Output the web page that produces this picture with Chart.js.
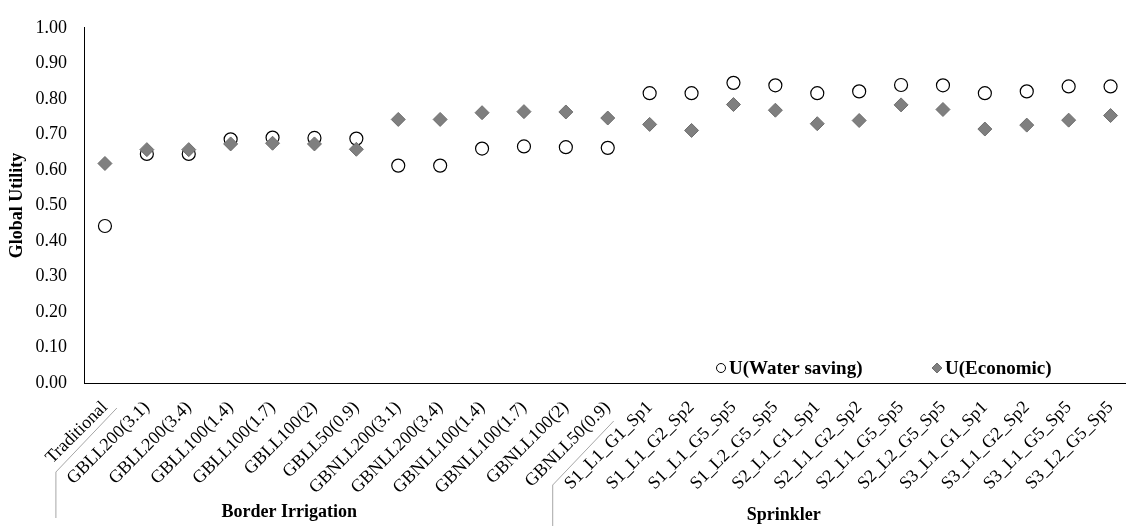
<!DOCTYPE html>
<html>
<head>
<meta charset="utf-8">
<script src="https://cdn.jsdelivr.net/npm/chart.js@4/dist/chart.umd.min.js"></script>
<style>
  html, body { margin: 0; padding: 0; background: #fff; overflow: hidden; }
  #wrap { width: 1140px; height: 527px; }
</style>
</head>
<body>
<div id="wrap"><canvas id="utility-chart" width="1140" height="527"></canvas></div>
<script>
const scenarios = [
  "Traditional",
  "GBLL200(3.1)",
  "GBLL200(3.4)",
  "GBLL100(1.4)",
  "GBLL100(1.7)",
  "GBLL100(2)",
  "GBLL50(0.9)",
  "GBNLL200(3.1)",
  "GBNLL200(3.4)",
  "GBNLL100(1.4)",
  "GBNLL100(1.7)",
  "GBNLL100(2)",
  "GBNLL50(0.9)",
  "S1_L1_G1_Sp1",
  "S1_L1_G2_Sp2",
  "S1_L1_G5_Sp5",
  "S1_L2_G5_Sp5",
  "S2_L1_G1_Sp1",
  "S2_L1_G2_Sp2",
  "S2_L1_G5_Sp5",
  "S2_L2_G5_Sp5",
  "S3_L1_G1_Sp1",
  "S3_L1_G2_Sp2",
  "S3_L1_G5_Sp5",
  "S3_L2_G5_Sp5",
];

const waterSaving = [
  0.442, 0.645, 0.645, 0.686, 0.691, 0.690, 0.688, 0.612, 0.612, 0.660, 0.666,
  0.664, 0.662, 0.816, 0.816, 0.845, 0.838, 0.816, 0.821, 0.839, 0.838, 0.816,
  0.821, 0.835, 0.835,
];

const economic = [
  0.618, 0.657, 0.657, 0.673, 0.675, 0.673, 0.658, 0.742, 0.742, 0.761, 0.764,
  0.763, 0.746, 0.728, 0.711, 0.784, 0.768, 0.730, 0.739, 0.783, 0.770, 0.715,
  0.726, 0.740, 0.753,
];

// irrigation system groups shown under the scenario labels
const groupNames = ["Border Irrigation", "Sprinkler"];
const groupFirstIndex = [0, 13];

const serif = "'Liberation Serif', 'Times New Roman', serif";

// Group captions and the slanted divider lines under the category labels
const groupLabelsPlugin = {
  id: "groupLabels",
  afterDraw(chart, args, opts) {
    const { ctx, scales } = chart;
    const x = scales.x;
    const base = chart.chartArea.bottom;
    ctx.save();
    ctx.strokeStyle = "#a6a6a6";
    ctx.lineWidth = 1;
    opts.dividers.forEach((d) => {
      const bx = (x.getPixelForValue(d.at - 0.5) + x.getPixelForValue(d.at + 0.5)) / 2;
      const topX = bx + d.dx;
      const topY = base + d.top;
      ctx.beginPath();
      ctx.moveTo(topX, topY);
      ctx.lineTo(topX - 61, topY + 64);
      ctx.lineTo(topX - 61, base + d.end);
      ctx.stroke();
    });
    ctx.fillStyle = "#000";
    ctx.font = "bold 18px " + serif;
    ctx.textAlign = "center";
    ctx.textBaseline = "middle";
    groupNames.forEach((name, i) => {
      const px = x.getPixelForValue(opts.labelAt[i]);
      ctx.fillText(name, px, base + opts.labelY[i]);
    });
    ctx.restore();
  },
};

// Legend drawn inside the plot area, bottom right
const innerLegendPlugin = {
  id: "innerLegend",
  afterDraw(chart, args, opts) {
    const { ctx, chartArea } = chart;
    const y = chartArea.bottom - opts.bottom;
    ctx.save();
    ctx.font = "bold 19px " + serif;
    ctx.textBaseline = "middle";
    ctx.textAlign = "left";
    chart.data.datasets.forEach((ds, i) => {
      const mx = chartArea.left + opts.offsets[i];
      ctx.fillStyle = ds.backgroundColor;
      ctx.strokeStyle = ds.borderColor;
      ctx.lineWidth = 1;
      ctx.beginPath();
      if (ds.pointStyle === "circle") {
        ctx.arc(mx, y, 4.5, 0, Math.PI * 2);
      } else {
        ctx.moveTo(mx, y - 5);
        ctx.lineTo(mx + 5, y);
        ctx.lineTo(mx, y + 5);
        ctx.lineTo(mx - 5, y);
        ctx.closePath();
      }
      ctx.fill();
      ctx.stroke();
      ctx.fillStyle = "#000";
      ctx.fillText(ds.label, mx + 8, y + 1);
    });
    ctx.restore();
  },
};

const canvas = document.getElementById("utility-chart");
const utilityChart = new Chart(canvas, {
  type: "line",
  data: {
    labels: scenarios,
    datasets: [
      {
        label: "U(Water saving)",
        data: waterSaving,
        showLine: false,
        pointStyle: "circle",
        pointRadius: 6.5,
        pointHoverRadius: 6.5,
        backgroundColor: "#ffffff",
        borderColor: "#000000",
        borderWidth: 1.2,
        order: 1,
      },
      {
        label: "U(Economic)",
        data: economic,
        showLine: false,
        pointStyle: "rectRot",
        pointRadius: 7,
        pointHoverRadius: 7,
        backgroundColor: "#7f7f7f",
        borderColor: "#6e6e6e",
        borderWidth: 1,
        order: 0,
      },
    ],
  },
  options: {
    responsive: false,
    animation: false,
    layout: {
      padding: { top: 18, right: 8, left: 0, bottom: 0 },
    },
    plugins: {
      legend: { display: false },
      tooltip: { enabled: false },
      groupLabels: {
        labelAt: [4.4, 16.2],
        labelY: [129, 132],
        dividers: [
          { at: 0.5, dx: -9, top: 25, end: 135 },
          { at: 12.5, dx: -15, top: 38, end: 143 },
        ],
      },
      innerLegend: {
        bottom: 15,
        offsets: [637, 853],
      },
    },
    scales: {
      x: {
        type: "category",
        offset: true,
        grid: { display: false, drawTicks: false },
        border: { display: true, color: "#000", width: 1 },
        ticks: {
          autoSkip: false,
          maxRotation: 45,
          minRotation: 45,
          padding: 14,
          color: "#000",
          font: { family: serif, size: 18 },
        },
        afterFit(scale) {
          scale.height = 144;
        },
      },
      y: {
        min: 0,
        max: 1,
        grid: { display: false, drawTicks: false },
        border: { display: true, color: "#000", width: 1 },
        ticks: {
          stepSize: 0.1,
          padding: 17,
          color: "#000",
          font: { family: serif, size: 18 },
          callback: (value) => value.toFixed(2),
        },
        title: {
          display: true,
          text: "Global Utility",
          color: "#000",
          padding: { top: 7, bottom: 0 },
          font: { family: serif, size: 18, weight: "bold" },
        },
        afterFit(scale) {
          scale.width = 84;
        },
      },
    },
  },
  plugins: [groupLabelsPlugin, innerLegendPlugin],
});
</script>
</body>
</html>
